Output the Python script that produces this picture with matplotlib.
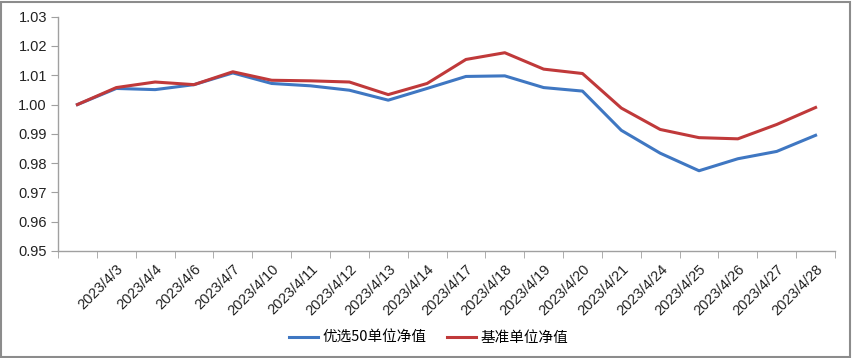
import matplotlib
matplotlib.use("Agg")
import matplotlib.pyplot as plt
from matplotlib.patches import Rectangle
from matplotlib.ticker import FixedLocator, FormatStrFormatter

plt.rcParams['font.family'] = ['Liberation Sans', 'Noto Sans CJK SC', 'DejaVu Sans']

dates = ["", "2023/4/3", "2023/4/4", "2023/4/6", "2023/4/7", "2023/4/10", "2023/4/11",
         "2023/4/12", "2023/4/13", "2023/4/14", "2023/4/17", "2023/4/18", "2023/4/19",
         "2023/4/20", "2023/4/21", "2023/4/24", "2023/4/25", "2023/4/26", "2023/4/27",
         "2023/4/28"]
youxuan50 = [1.0000, 1.0055, 1.0051, 1.0068, 1.0108, 1.0072, 1.0064, 1.0049, 1.0015,
             1.0055, 1.0096, 1.0098, 1.0058, 1.0046, 0.9912, 0.9834, 0.9774, 0.9815,
             0.9840, 0.9895]
benchmark = [1.0000, 1.0058, 1.0077, 1.0068, 1.0112, 1.0083, 1.0081, 1.0077, 1.0034,
             1.0072, 1.0154, 1.0177, 1.0121, 1.0106, 0.9988, 0.9915, 0.9887, 0.9883,
             0.9932, 0.9990]
series_names = ["优选50单位净值", "基准单位净值"]
colors = ["#3F77C2", "#C0393A"]

fig = plt.figure(figsize=(8.52, 3.58), dpi=100)
ax = fig.add_axes([58/852, 1-251/358, (835-58)/852, (251-16.7)/358])

x = list(range(len(dates)))
ax.plot(x, youxuan50, color=colors[0], lw=2.2, label=series_names[0], solid_joinstyle='round')
ax.plot(x, benchmark, color=colors[1], lw=2.2, label=series_names[1], solid_joinstyle='round')

ax.set_xlim(-0.5, len(dates) - 0.5)
ax.set_ylim(0.95, 1.03)
ax.set_yticks([0.95 + 0.01*i for i in range(9)])
ax.yaxis.set_major_formatter(FormatStrFormatter('%.2f'))
ax.tick_params(axis='y', labelsize=10.5, length=5, color='#A0A0A0', labelcolor='#222222', pad=3)

ax.set_xticks(x)
ax.set_xticklabels(dates, rotation=45, ha='right', va='top', rotation_mode='anchor',
                   fontsize=10.5, color='#222222')
ax.tick_params(axis='x', which='major', length=0, pad=8)
ax.xaxis.set_minor_locator(FixedLocator([i - 0.5 for i in range(len(dates) + 1)]))
ax.tick_params(axis='x', which='minor', length=5, color='#A0A0A0')

for s in ['top', 'right']:
    ax.spines[s].set_visible(False)
for s in ['left', 'bottom']:
    ax.spines[s].set_color('#A0A0A0')
    ax.spines[s].set_linewidth(1.0)

leg = fig.legend(loc='center', bbox_to_anchor=(0.503, 0.056), ncol=2, frameon=False,
                 prop={'family': ['Noto Sans CJK SC', 'DejaVu Sans'], 'size': 10.5},
                 handlelength=2.0, columnspacing=1.4, handletextpad=0.3)

fig.patches.append(Rectangle((0.5/852, 1.5/358), 849.5/852, 355/358, transform=fig.transFigure,
                             fill=False, edgecolor='#8C8C8C', linewidth=1.5))

fig.savefig("out.png", dpi=100)
